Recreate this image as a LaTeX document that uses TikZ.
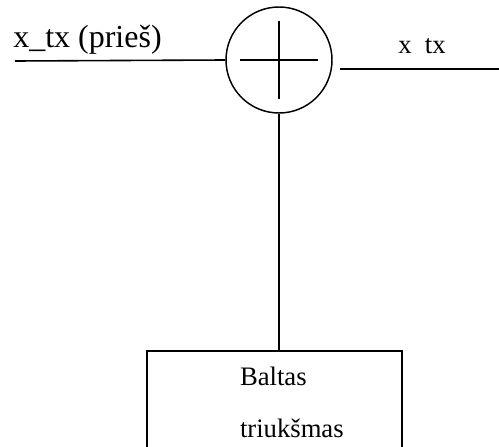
\documentclass[tikz,border=0pt]{standalone}
\usepackage{fontspec}
\setmainfont{Liberation Serif}
\usepackage{tikz}

\begin{document}
\begin{tikzpicture}[x=0.75pt, y=-0.75pt,
    wire/.style={line width=1.2pt},
    sumnode/.style={draw,circle,line width=1.1pt,minimum size=79.5pt,inner sep=0pt},
    noisebox/.style={draw,line width=1.2pt,anchor=north,minimum width=191.25pt,
      inner xsep=69.75pt,inner ysep=12.5pt,text width=51.75pt,align=left,
      font=\fontsize{20}{39}\selectfont},
    sig/.style={anchor=base west,inner sep=0pt}]
    \useasboundingbox (0,0) rectangle (499,446);
    \clip (0,0) rectangle (499,446);

    \node[sumnode] (sum) at (279,60) {};
    \node[noisebox] (noise) at (274.5,350) {Baltas\\triukšmas};
    \coordinate (in) at (15,61);
    \coordinate (outa) at (340,69);
    \coordinate (outb) at (499,69);

    \node[sig,font=\fontsize{24}{26}\selectfont] (inlabel) at (13,47) {x\_tx (prieš)};
    \node[sig,font=\fontsize{20}{22}\selectfont] (outlabel) at (398,53) {x\ \ tx};

    \draw[wire] (in) -- (sum.west);
    \draw[wire] (outa) -- (outb);
    \draw[wire] ([xshift=-29.6pt]sum.center) -- ([xshift=29.6pt]sum.center);
    \draw[wire] ([yshift=29.6pt]sum.center) -- ([yshift=-29.6pt]sum.center);
    \draw[wire] (sum.south) -- (sum.south |- noise.north);
\end{tikzpicture}
\end{document}
